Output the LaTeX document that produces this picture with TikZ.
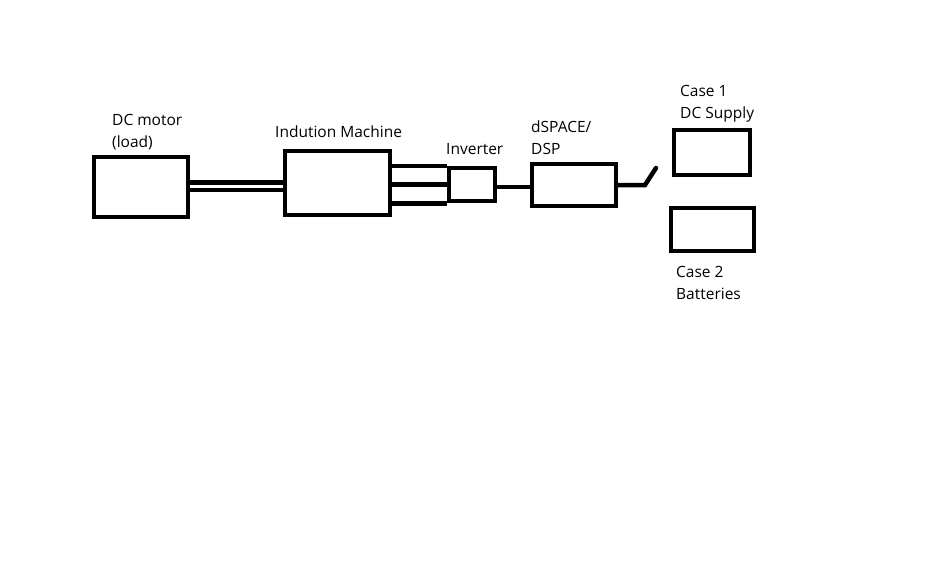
\documentclass[tikz,border=0pt]{standalone}
\usepackage{fontspec}
\setmainfont{Open Sans}
\tikzset{
  block/.style={draw, line width=4.5pt, inner sep=0pt},
  lbl/.style={anchor=north west, inner sep=0pt, align=left, font=\fontsize{15.5}{22}\selectfont},
  wire/.style={line width=4.5pt}
}
\begin{document}
\begin{tikzpicture}[x=1pt,y=-1pt]
      \useasboundingbox (0,0) rectangle (930,576);
      \draw
        (141,187) node[block, minimum width=94pt, minimum height=60pt] (motor){}
        (337.5,183) node[block, minimum width=105pt, minimum height=64pt] (im){}
        (472,184.5) node[block, minimum width=46pt, minimum height=33pt] (inv){}
        (574,185) node[block, minimum width=84pt, minimum height=42pt] (dsp){}
        (712,152.5) node[block, minimum width=76pt, minimum height=45pt] (case1){}
        (712.5,229.5) node[block, minimum width=83pt, minimum height=43pt] (case2){};
      \draw
        (112,114) node[lbl] (motortxt){DC motor\\(load)}
        (275,126) node[lbl] (imtxt){Indution Machine}
        (446,143) node[lbl] (invtxt){Inverter}
        (531,121) node[lbl] (dsptxt){dSPACE/\\DSP}
        (680,85) node[lbl] (case1txt){Case 1\\DC Supply}
        (676,266) node[lbl] (case2txt){Case 2\\Batteries};
      \coordinate (sw1) at (645,185);
      \coordinate (sw2) at (656,168);
      \begin{scope}[wire]
        \draw[line width=4.5pt, double, double distance=3pt] (motor.east |- 0,186) to (im.west |- 0,186);
        \draw (im.east |- inv.north west) to (inv.north west);
        \draw (im.east |- inv.west) to (inv.west);
        \draw (im.east |- inv.south west) to (inv.south west);
        \draw (inv.east |- 0,187) to (dsp.west |- 0,187);
        \draw[line cap=round] (dsp.east) -- (sw1) -- (sw2);
      \end{scope}
    \end{tikzpicture}
\end{document}
